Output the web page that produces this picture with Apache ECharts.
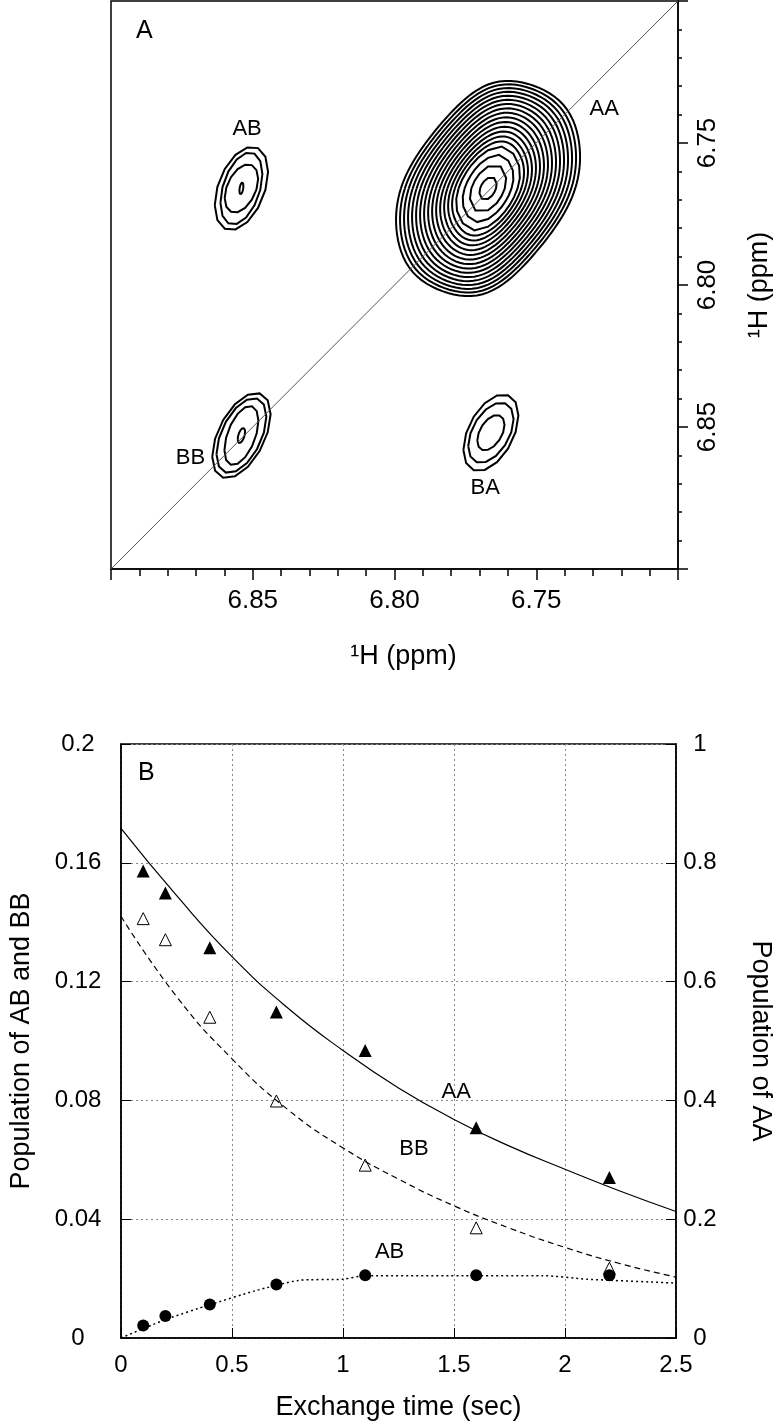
<!DOCTYPE html>
<html>
<head>
<meta charset="utf-8">
<script src="https://cdn.jsdelivr.net/npm/echarts@6/dist/echarts.min.js"></script>
<style>
  html, body { margin: 0; padding: 0; background: #fff; }
  #main { width: 782px; height: 1428px; }
</style>
</head>
<body>
<div id="main"></div>
<script>
// ---------- panel A : 2D map (ppm) ----------
var ppmRange = [6.70, 6.90];

// peak centres [x, y] in ppm
var peakAA = [6.767, 6.766];
var peakAB = [6.854, 6.766];
var peakBB = [6.854, 6.853];
var peakBA = [6.766, 6.852];

// AA outer contour: half width, half height, cross half width, along half length (ppm), squareness
var aaShape = [0.0335, 0.0405, 0.0275, 0.043, 6];
// relative size of each AA contour level
var aaRings = [1, 0.958, 0.916, 0.874, 0.832, 0.79, 0.748, 0.706, 0.664, 0.622,
               0.58, 0.538, 0.496, 0.454, 0.412, 0.37, 0.30, 0.22, 0.11];

// small peaks: [half width, half height] in ppm for each level
var abRings = [[0.0094, 0.0147], [0.0074, 0.0127], [0.0059, 0.0085], [0.0007, 0.0020]];
var bbRings = [[0.0103, 0.0150], [0.0088, 0.0132], [0.0060, 0.0104], [0.0013, 0.0026]];
var baRings = [[0.0097, 0.0135], [0.0080, 0.0106], [0.0048, 0.0062]];
var abTilt = 0.4, bbTilt = 0.5, baTilt = 0.45;

var labelsA = [['AB', 6.852, 6.745], ['AA', 6.726, 6.738], ['BB', 6.872, 6.861], ['BA', 6.768, 6.8715]];

// ---------- panel B : populations ----------
var times = [0.1, 0.2, 0.4, 0.7, 1.1, 1.6, 2.2];
var popAA = [0.786, 0.749, 0.657, 0.549, 0.484, 0.354, 0.270];
var popBB = [0.1412, 0.1341, 0.108, 0.0798, 0.0582, 0.0371, 0.0235];
var popAB = [0.0042, 0.0074, 0.0113, 0.018, 0.0211, 0.0211, 0.0211];

var fitTimes = [0, 0.25, 0.5, 0.75, 1.0, 1.25, 1.5, 1.75, 2.0, 2.25, 2.5];
var fitAA = [0.858, 0.745, 0.642, 0.556, 0.484, 0.421, 0.368, 0.323, 0.284, 0.247, 0.213];
var fitBB = [0.142, 0.115, 0.094, 0.077, 0.064, 0.0535, 0.0445, 0.037, 0.0305, 0.025, 0.0205];
var fitABTimes = [0, 0.2, 0.4, 0.6, 0.8, 1.0, 1.1, 1.6, 1.9, 2.1, 2.5];
var fitAB = [0, 0.0062, 0.0112, 0.0158, 0.0194, 0.0198, 0.021, 0.021, 0.021, 0.0198, 0.0185];

var labelsB = [['AA', 1.51, 0.0828], ['BB', 1.32, 0.0636], ['AB', 1.21, 0.029]];

var FONT = 'Liberation Sans, Arial, Helvetica, sans-serif';

function ellipseRing(c, w, h, rho, n) {
  var d = Math.acos(rho);
  var pts = [];
  for (var i = 0; i <= n; i++) {
    var t = 2 * Math.PI * i / n;
    pts.push([c[0] + w * Math.cos(t), c[1] + h * Math.cos(t - d)]);
  }
  return pts;
}

// rounded octagon-like ring, elongated along the diagonal
function aaRing(s, n) {
  var W = aaShape[0] * s;
  var H = aaShape[1] * s * (1 + 0.4 * (1 - s));
  var D = aaShape[2] * s;
  var E = aaShape[3] * s * (1 + 0.3 * (1 - s));
  var p = 2 + (aaShape[4] - 2) * s;
  var pts = [];
  for (var i = 0; i <= n; i++) {
    var a = 2 * Math.PI * i / n;
    var dx = Math.cos(a), dy = Math.sin(a);
    var norm = Math.pow(
      Math.pow(Math.abs(dx / W), p) +
      Math.pow(Math.abs(dy / H), p) +
      Math.pow(Math.abs((0.766 * dx - 0.64 * dy) / D), p) +
      Math.pow(Math.abs((0.64 * dx + 0.766 * dy) / E), p), 1 / p);
    pts.push([peakAA[0] + dx / norm, peakAA[1] + dy / norm]);
  }
  return pts;
}

var contourData = [];
aaRings.forEach(function (s) {
  contourData.push({ coords: aaRing(s, s < 0.25 ? 12 : (s < 0.4 ? 20 : 120)) });
});
abRings.forEach(function (r) { contourData.push({ coords: ellipseRing(peakAB, r[0], r[1], abTilt, 14) }); });
bbRings.forEach(function (r) { contourData.push({ coords: ellipseRing(peakBB, r[0], r[1], bbTilt, 14) }); });
baRings.forEach(function (r) { contourData.push({ coords: ellipseRing(peakBA, r[0], r[1], baTilt, 14) }); });

function zip(xs, ys) { return xs.map(function (x, i) { return [x, ys[i]]; }); }

var chart = echarts.init(document.getElementById('main'));

var labelStyle = {
  show: true, position: 'inside', formatter: '{b}', fontSize: 22, color: '#000',
  fontFamily: FONT, textBorderWidth: 0
};

var option = {
  animation: false,
  backgroundColor: '#fff',
  textStyle: { fontFamily: FONT, color: '#000' },
  graphic: [
    { type: 'text', left: 136, top: 19, style: { text: 'A', font: '25px ' + FONT, fill: '#000' } },
    { type: 'text', left: 138, top: 761, style: { text: 'B', font: '25px ' + FONT, fill: '#000' } }
  ],
  grid: [
    { left: 111, top: 1, width: 567, height: 568, show: true, borderColor: '#000', borderWidth: 1.5 },
    { left: 117, top: 744, width: 563, height: 594, show: true, borderColor: '#000', borderWidth: 1.5 }
  ],
  xAxis: [{
    gridIndex: 0, type: 'value', min: ppmRange[0], max: ppmRange[1], interval: 0.05, inverse: true,
    axisLine: { lineStyle: { color: '#000', width: 1.5 } },
    axisTick: { length: 11, lineStyle: { color: '#000', width: 1.5 } },
    minorTick: { show: true, splitNumber: 5, length: 7, lineStyle: { color: '#000', width: 1.5 } },
    splitLine: { show: false },
    axisLabel: {
      fontSize: 26, color: '#000', margin: 19, showMinLabel: false, showMaxLabel: false,
      formatter: function (v) { return v.toFixed(2); }
    },
    name: '¹H (ppm)', nameLocation: 'middle', nameGap: 74,
    nameTextStyle: { fontSize: 27, color: '#000', padding: [0, 0, 0, 18] }
  }, {
    gridIndex: 1, type: 'value', min: 0, max: 2.5, interval: 0.5,
    axisLine: { lineStyle: { color: '#000', width: 1.5 } },
    axisTick: { inside: true, length: 10, lineStyle: { color: '#000' } },
    splitLine: { show: true, lineStyle: { color: '#888', width: 1, type: [2, 3] } },
    axisLabel: { fontSize: 24, color: '#000', margin: 15 },
    name: 'Exchange time (sec)', nameLocation: 'middle', nameGap: 56,
    nameTextStyle: { fontSize: 27, color: '#000' }
  }],
  yAxis: [{
    gridIndex: 0, type: 'value', position: 'right', min: ppmRange[0], max: ppmRange[1], interval: 0.05, inverse: true,
    axisLine: { lineStyle: { color: '#000', width: 1.5 } },
    axisTick: { length: 10, lineStyle: { color: '#000', width: 1.5 } },
    minorTick: { show: true, splitNumber: 5, length: 4, lineStyle: { color: '#000', width: 1.5 } },
    splitLine: { show: false },
    axisLabel: {
      fontSize: 26, color: '#000', rotate: 90, margin: 17, showMinLabel: false, showMaxLabel: false,
      formatter: function (v) { return v.toFixed(2); }
    },
    name: '¹H (ppm)', nameLocation: 'middle', nameGap: 68, nameRotate: 90,
    nameTextStyle: { fontSize: 27, color: '#000' }
  }, {
    gridIndex: 1, type: 'value', position: 'left', min: 0, max: 0.2, interval: 0.04,
    axisLine: { lineStyle: { color: '#000', width: 1.5 } },
    axisTick: { inside: true, length: 10, lineStyle: { color: '#000' } },
    splitLine: { show: true, lineStyle: { color: '#888', width: 1, type: [2, 3] } },
    axisLabel: {
      fontSize: 24, color: '#000', align: 'center', margin: 43,
      formatter: function (v) { return String(+v.toFixed(2)); }
    },
    name: 'Population of AB and BB', nameLocation: 'middle', nameGap: 86,
    nameTextStyle: { fontSize: 27, color: '#000' }
  }, {
    gridIndex: 1, type: 'value', position: 'right', min: 0, max: 1, interval: 0.2,
    axisLine: { lineStyle: { color: '#000', width: 1.5 } },
    axisTick: { inside: true, length: 10, lineStyle: { color: '#000' } },
    splitLine: { show: false },
    axisLabel: {
      fontSize: 24, color: '#000', align: 'center', margin: 24,
      formatter: function (v) { return String(+v.toFixed(1)); }
    },
    name: 'Population of AA', nameLocation: 'middle', nameGap: 71, nameRotate: -90,
    nameTextStyle: { fontSize: 27, color: '#000' }
  }],
  series: [
    // diagonal
    {
      type: 'line', xAxisIndex: 0, yAxisIndex: 0, showSymbol: false, silent: true,
      data: [[ppmRange[1], ppmRange[1]], [ppmRange[0], ppmRange[0]]],
      lineStyle: { color: '#555', width: 1 }
    },
    // contours
    {
      type: 'lines', coordinateSystem: 'cartesian2d', xAxisIndex: 0, yAxisIndex: 0,
      polyline: true, silent: true, data: contourData,
      lineStyle: { color: '#000', width: 2, opacity: 1 }
    },
    // labels panel A
    {
      type: 'scatter', xAxisIndex: 0, yAxisIndex: 0, symbolSize: 0, silent: true,
      data: labelsA.map(function (l) { return { name: l[0], value: [l[1], l[2]] }; }),
      itemStyle: { color: '#000', opacity: 1 }, label: labelStyle
    },
    // fits panel B
    {
      type: 'line', xAxisIndex: 1, yAxisIndex: 2, smooth: true, showSymbol: false, silent: true,
      data: zip(fitTimes, fitAA), lineStyle: { color: '#000', width: 1.2 }
    },
    {
      type: 'line', xAxisIndex: 1, yAxisIndex: 1, smooth: true, showSymbol: false, silent: true,
      data: zip(fitTimes, fitBB), lineStyle: { color: '#000', width: 1.2, type: [6, 4] }
    },
    {
      type: 'line', xAxisIndex: 1, yAxisIndex: 1, smooth: 0.2, showSymbol: false, silent: true,
      data: zip(fitABTimes, fitAB), lineStyle: { color: '#000', width: 1.5, type: [2, 3] }
    },
    // data points
    {
      type: 'scatter', xAxisIndex: 1, yAxisIndex: 2, symbol: 'triangle', symbolSize: 13,
      data: zip(times, popAA), itemStyle: { color: '#000', opacity: 1 }
    },
    {
      type: 'scatter', xAxisIndex: 1, yAxisIndex: 1, symbol: 'triangle', symbolSize: 12,
      data: zip(times, popBB), itemStyle: { color: '#fff', borderColor: '#000', borderWidth: 1, opacity: 1 }
    },
    {
      type: 'scatter', xAxisIndex: 1, yAxisIndex: 1, symbol: 'circle', symbolSize: 12,
      data: zip(times, popAB), itemStyle: { color: '#000', opacity: 1 }
    },
    // labels panel B
    {
      type: 'scatter', xAxisIndex: 1, yAxisIndex: 1, symbolSize: 0, silent: true,
      data: labelsB.map(function (l) { return { name: l[0], value: [l[1], l[2]] }; }),
      itemStyle: { color: '#000', opacity: 1 }, label: labelStyle
    }
  ]
};

chart.setOption(option);
</script>
</body>
</html>
